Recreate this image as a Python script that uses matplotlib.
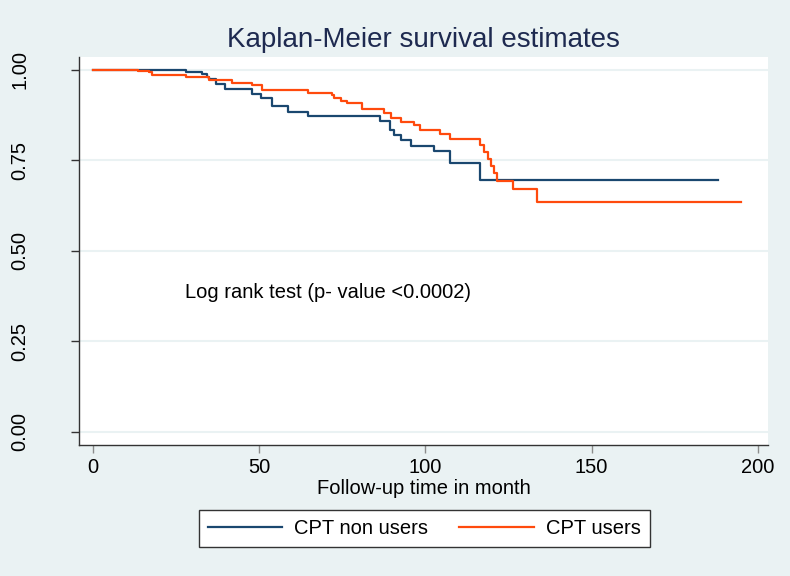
"""
Kaplan-Meier survival estimates, CPT users vs non users
"""

import matplotlib
matplotlib.use('Agg')
import matplotlib.pyplot as plt

plt.rcParams['font.family'] = ['Liberation Sans', 'DejaVu Sans']

# Curve data (time in month, survival)
t_non_users = [0, 27.9, 32.9, 34.4, 34.9, 36.9, 39.6, 47.9, 50.5, 53.9, 58.6, 64.7,
               86.3, 89.3, 90.5, 92.7, 95.7, 102.5, 107.5, 116.5, 188]
s_non_users = [1.0, 0.994, 0.988, 0.980, 0.974, 0.960, 0.945, 0.932, 0.922, 0.898, 0.882, 0.871,
               0.859, 0.834, 0.819, 0.804, 0.788, 0.774, 0.742, 0.696, 0.696]

t_users = [0, 13.6, 16.9, 17.9, 27.9, 34.9, 41.9, 47.9, 50.7, 64.7, 71.8, 72.5, 74.5, 76.5,
           80.8, 87.5, 89.5, 92.7, 96.5, 98.5, 104.5, 107.5, 116.5, 117.5, 118.8, 119.8,
           120.7, 121.5, 126.3, 133.5, 195]
s_users = [1.0, 0.997, 0.992, 0.985, 0.978, 0.970, 0.964, 0.957, 0.943, 0.936, 0.929, 0.922, 0.914, 0.908,
           0.890, 0.879, 0.867, 0.856, 0.848, 0.834, 0.822, 0.808, 0.792, 0.772, 0.754, 0.733,
           0.715, 0.692, 0.669, 0.635, 0.635]

x_ticks = [0, 50, 100, 150, 200]
y_ticks = [0.0, 0.25, 0.5, 0.75, 1.0]
y_labels = ['0.00', '0.25', '0.50', '0.75', '1.00']

bg = '#eaf2f3'
navy = '#1a476f'
orange = '#ff4a0d'
axis_col = '#333333'

fig = plt.figure(figsize=(7.9, 5.76), dpi=100, facecolor=bg)
ax = fig.add_axes([0.1, 0.2274, 0.872, 0.6736])
ax.set_facecolor('white')

# grid
for y in y_ticks:
    ax.axhline(y, color=bg, lw=1.5, zorder=1)

ax.step(t_non_users, s_non_users, where='post', color=navy, lw=1.6, label='CPT non users', zorder=3)
ax.step(t_users, s_users, where='post', color=orange, lw=1.6, label='CPT users', zorder=4)

ax.text(27.6, 0.383, 'Log rank test (p- value <0.0002)', fontsize=14.5, va='center', ha='left')

ax.set_xlim(-4.2, 203)
ax.set_ylim(-0.037, 1.0345)
ax.set_xticks(x_ticks)
ax.set_yticks(y_ticks)
ax.set_yticklabels(y_labels, rotation=90, va='center')

for s in ['top', 'right']:
    ax.spines[s].set_visible(False)
for s in ['left', 'bottom']:
    ax.spines[s].set_color(axis_col)
    ax.spines[s].set_linewidth(1.0)
ax.tick_params(direction='out', length=5.5, width=1.0, color=axis_col, labelsize=14.5)
ax.tick_params(axis='x', color='#8c8c8c', pad=4)
ax.tick_params(axis='y', pad=30)

ax.set_xlabel('Follow-up time in month', fontsize=14.5, labelpad=1)
ax.set_title('Kaplan-Meier survival estimates', fontsize=20, color='#1e2a50', pad=7)

leg = fig.legend(loc='center', bbox_to_anchor=(0.537, 0.082), ncol=2, fontsize=14.5,
                 frameon=True, fancybox=False, handlelength=3.7, handletextpad=0.6,
                 columnspacing=1.55, borderpad=0.45, edgecolor=axis_col,
                 facecolor='white', framealpha=1)
leg.get_frame().set_linewidth(1.0)

plt.savefig('out.png', dpi=100, facecolor=bg)
